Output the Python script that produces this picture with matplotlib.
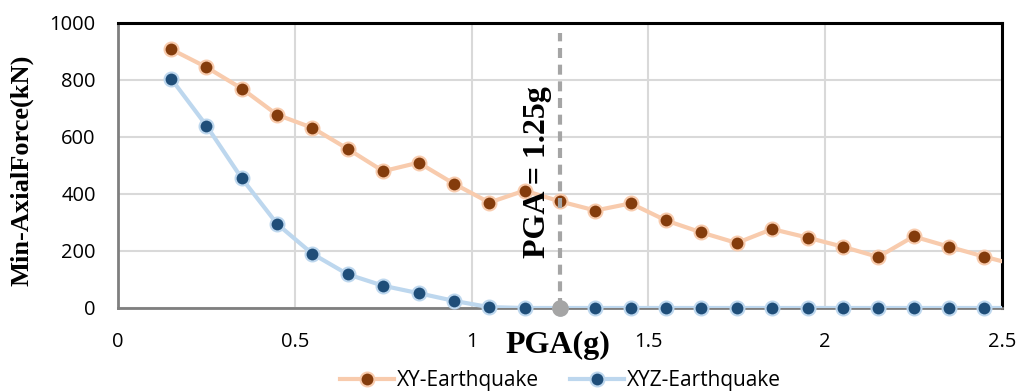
import matplotlib.pyplot as plt
from matplotlib.lines import Line2D

# PGA levels (g) and minimum axial force (kN) for the two excitation cases
pga = [0.15, 0.25, 0.35, 0.45, 0.55, 0.65, 0.75, 0.85, 0.95, 1.05, 1.15, 1.25,
       1.35, 1.45, 1.55, 1.65, 1.75, 1.85, 1.95, 2.05, 2.15, 2.25, 2.35, 2.45, 2.55]
xy_force = [908, 845, 770, 678, 632, 558, 480, 510, 436, 370, 412, 374,
            342, 367, 307, 265, 228, 277, 247, 215, 179, 251, 215, 180, 148]
xyz_force = [805, 640, 455, 295, 190, 118, 78, 52, 25, 3, 0, 0,
             0, 0, 0, 0, 0, 0, 0, 0, 0, 0, 0, 0, 0]
pga_limit = 1.25

xticks = [0, 0.5, 1, 1.5, 2, 2.5]
yticks = [0, 200, 400, 600, 800, 1000]

tick_font = 'Open Sans'
serif = 'Liberation Serif'

fig = plt.figure(figsize=(10.19, 3.91), dpi=100)
ax = fig.add_axes([0.1158, 0.2123, 0.8675, 0.7289])

series = [
    (xy_force, '#f8cbad', '#843c0c', 'XY-Earthquake'),
    (xyz_force, '#bdd7ee', '#1f4e79', 'XYZ-Earthquake'),
]
handles = []
for vals, lc, mc, name in series:
    # line clipped at the frame, markers drawn in full
    ax.plot(pga, vals, color=lc, lw=3, zorder=3, solid_capstyle='round')
    ax.plot(pga[:-1], vals[:-1], ls='none', marker='o', ms=10, mfc=mc,
            mec=lc, mew=1.5, zorder=4, clip_on=False)
    handles.append(Line2D([], [], color=lc, lw=3, marker='o', ms=10,
                          mfc=mc, mec=lc, mew=1.5))

# PGA threshold marker
ax.plot([pga_limit, pga_limit], [0, 965], color='#a5a5a5', lw=3,
        dashes=(2.4, 1.6), zorder=5)
ax.plot([pga_limit], [0], marker='o', ms=11, color='#a5a5a5', zorder=6,
        clip_on=False)
ax.text(1.185, 477, 'PGA = 1.25g', rotation=90, ha='center', va='center',
        fontsize=23, fontweight='bold', family=serif, zorder=7)

ax.set_xlim(0, 2.5)
ax.set_ylim(0, 1000)
ax.set_xticks(xticks)
ax.set_xticklabels([f'{t:g}' for t in xticks])
ax.set_yticks(yticks)
ax.tick_params(length=0, labelsize=14.5)
ax.tick_params(axis='y', pad=16)
ax.tick_params(axis='x', pad=17)
for lab in ax.get_xticklabels() + ax.get_yticklabels():
    lab.set_family(tick_font)

ax.grid(color='#d9d9d9', lw=1.5, zorder=0)
ax.set_axisbelow(True)

for side in ['top', 'right']:
    ax.spines[side].set_color('black')
    ax.spines[side].set_linewidth(2.2)
for side in ['left', 'bottom']:
    ax.spines[side].set_color('#7f7f7f')
    ax.spines[side].set_linewidth(2)

ax.set_ylabel('Min-AxialForce(kN)', fontsize=19, fontweight='bold', family=serif)
ax.yaxis.set_label_coords(-0.096, 0.484)
ax.set_xlabel('PGA(g)', fontsize=23, fontweight='bold', family=serif)
ax.xaxis.set_label_coords(0.498, -0.13)
ax.xaxis.label.set_va('center')

fig.legend(handles, [s[3] for s in series], loc='center', ncol=2,
           bbox_to_anchor=(0.55, 0.027), frameon=False, handlelength=2.6,
           columnspacing=1.45, handletextpad=0.15,
           prop={'family': tick_font, 'size': 15})

fig.savefig('out.png', dpi=100)
